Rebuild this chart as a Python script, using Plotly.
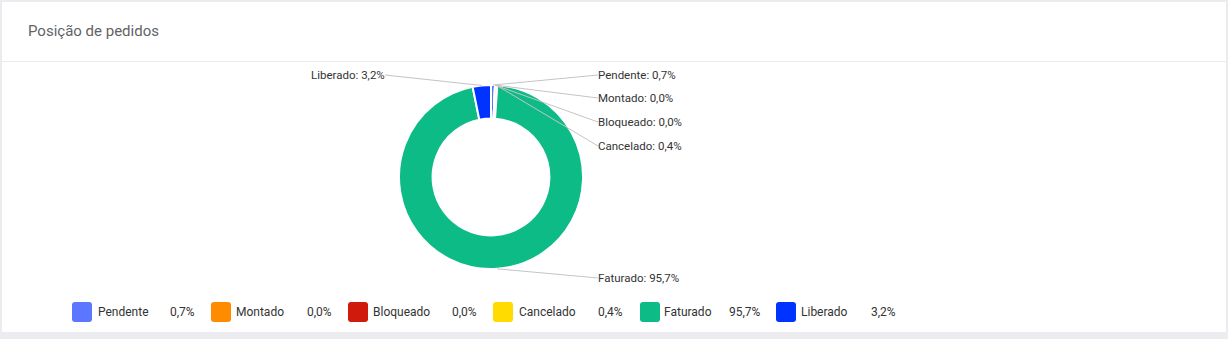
import math
import plotly.graph_objects as go

# ---------------- data ----------------
categories = ["Pendente", "Montado", "Bloqueado", "Cancelado", "Faturado", "Liberado"]
percentages = [0.7, 0.0, 0.0, 0.4, 95.7, 3.2]
colors = ["#5b76ff", "#ff8c00", "#d01a0c", "#ffdb00", "#0dbb87", "#0033ff"]
title_text = "Posição de pedidos"

# ---------------- layout constants ----------------
W, H = 1228, 339
CX, CY, R = 491, 177, 92          # donut centre / outer radius (px)
HOLE = 0.635

def px_x(x):
    return x / W

def px_y(y):
    return 1 - y / H

def fmt(v):
    return f"{v:.1f}".replace(".", ",") + "%"

fig = go.Figure()

fig.add_trace(go.Pie(
    labels=categories,
    values=percentages,
    marker=dict(colors=colors, line=dict(color="white", width=2)),
    hole=HOLE,
    sort=False,
    direction="clockwise",
    rotation=0,
    textinfo="none",
    hoverinfo="label+percent",
    showlegend=False,
    domain=dict(x=[px_x(CX - R), px_x(CX + R)], y=[px_y(CY + R), px_y(CY - R)]),
))

# ---------------- outside labels with leader lines ----------------
label_pos = {
    "Pendente": ("right", 598, 75),
    "Montado": ("right", 598, 98),
    "Bloqueado": ("right", 598, 122),
    "Cancelado": ("right", 598, 146),
    "Faturado": ("right", 598, 278),
    "Liberado": ("left", 385, 75),
}

NOPAD = dict(borderpad=0, borderwidth=0)

annotations = []
total = sum(percentages)
cum = 0.0
for cat, v in zip(categories, percentages):
    mid = (cum + v / 2) / total
    cum += v
    theta = 2 * math.pi * mid
    hx = CX + R * math.sin(theta)
    hy = CY - R * math.cos(theta)
    side, tx, ty = label_pos[cat]
    annotations.append(dict(
        xref="paper", yref="paper",
        x=px_x(hx), y=px_y(hy),
        ax=tx - hx, ay=ty - hy,
        axref="pixel", ayref="pixel",
        text=f"{cat}: {fmt(v)}",
        showarrow=True, arrowhead=0, arrowwidth=1, arrowcolor="#c4c4c4",
        standoff=0, startstandoff=0,
        xanchor="left" if side == "right" else "right",
        yanchor="middle",
        font=dict(family="Roboto", size=11.5, color="#333333"),
        **NOPAD,
    ))

# ---------------- title ----------------
annotations.append(dict(
    xref="paper", yref="paper", x=px_x(28), y=px_y(31),
    text=title_text, showarrow=False, xanchor="left", yanchor="middle",
    font=dict(family="Roboto", size=15, color="#5f6368"),
    **NOPAD,
))

# ---------------- custom legend ----------------
legend_square_x = [72, 211, 348, 493, 640, 776]
legend_name_x = [98, 236, 373, 519, 664, 801]
legend_value_x = [170, 307, 452, 598, 729, 871]
LEG_Y, SQ = 312, 20

shapes = [
    dict(type="rect", xref="paper", yref="paper",
         x0=px_x(2), x1=px_x(1226), y0=px_y(332), y1=px_y(2),
         fillcolor="white", line=dict(width=0), layer="below"),
    dict(type="line", xref="paper", yref="paper",
         x0=px_x(2), x1=px_x(1226), y0=px_y(61.5), y1=px_y(61.5),
         line=dict(color="#e9e9ee", width=1), layer="below"),
]

def rounded_rect(x0, y0, x1, y1, r):
    def P(x, y):
        return f"{px_x(x)},{px_y(y)}"
    return (f"M {P(x0 + r, y0)} L {P(x1 - r, y0)} Q {P(x1, y0)} {P(x1, y0 + r)} "
            f"L {P(x1, y1 - r)} Q {P(x1, y1)} {P(x1 - r, y1)} "
            f"L {P(x0 + r, y1)} Q {P(x0, y1)} {P(x0, y1 - r)} "
            f"L {P(x0, y0 + r)} Q {P(x0, y0)} {P(x0 + r, y0)} Z")

for i, (cat, v, col) in enumerate(zip(categories, percentages, colors)):
    sx = legend_square_x[i]
    shapes.append(dict(type="path", xref="paper", yref="paper",
                       path=rounded_rect(sx, LEG_Y - SQ / 2, sx + SQ, LEG_Y + SQ / 2, 3),
                       fillcolor=col, line=dict(width=0)))
    annotations.append(dict(
        xref="paper", yref="paper", x=px_x(legend_name_x[i]), y=px_y(LEG_Y),
        text=cat, showarrow=False, xanchor="left", yanchor="middle",
        font=dict(family="Roboto", size=12, color="#333333"),
        **NOPAD,
    ))
    annotations.append(dict(
        xref="paper", yref="paper", x=px_x(legend_value_x[i]), y=px_y(LEG_Y),
        text=fmt(v), showarrow=False, xanchor="left", yanchor="middle",
        font=dict(family="Roboto", size=12, color="#333333"),
        **NOPAD,
    ))

fig.update_layout(
    width=W, height=H,
    margin=dict(l=0, r=0, t=0, b=0),
    paper_bgcolor="#ebebf0",
    plot_bgcolor="#ebebf0",
    showlegend=False,
    shapes=shapes,
    annotations=annotations,
)

fig.write_html("out.html", config={"displayModeBar": False})
